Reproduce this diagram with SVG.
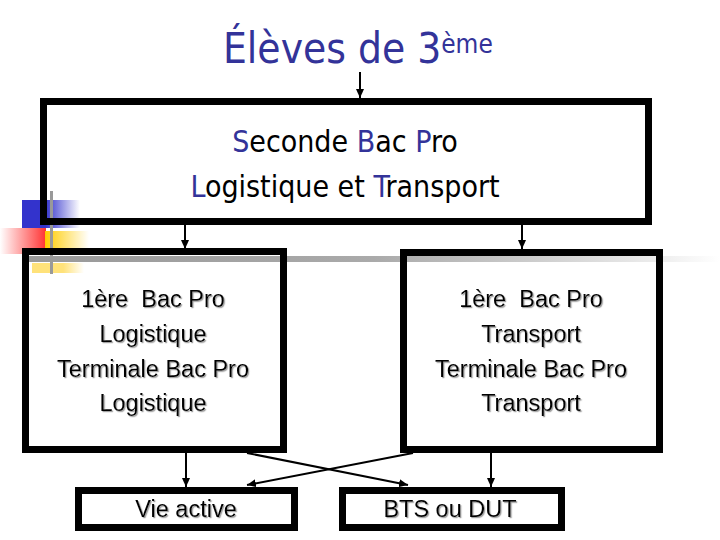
<svg xmlns="http://www.w3.org/2000/svg" width="720" height="540" viewBox="0 0 720 540">
<style>
.box{fill:none;stroke:#000;stroke-width:7}
.conn line{stroke:#000;stroke-width:2}
.title{font-family:"DejaVu Sans Condensed","DejaVu Sans",sans-serif;font-stretch:condensed;fill:#333399}
.main{font-family:"DejaVu Sans Condensed","DejaVu Sans",sans-serif;font-stretch:condensed;font-size:30px;fill:#000;text-anchor:middle}
.hl{fill:#333399}
.lbl{font-family:'Liberation Sans',Arial,sans-serif;font-size:23.5px;fill:#000;text-anchor:middle;white-space:pre;filter:url(#sh)}
</style>
<defs>
<marker id="ah" markerUnits="userSpaceOnUse" markerWidth="9" markerHeight="8" refX="9" refY="4" orient="auto">
<path d="M0,0 L9,4 L0,8 z" fill="#000"/>
</marker>
<filter id="sh" x="-5%" y="-20%" width="110%" height="140%">
<feDropShadow dx="1.2" dy="1.2" stdDeviation="0.4" flood-color="#888" flood-opacity="0.8"/>
</filter>
<linearGradient id="gBlue" x1="0" x2="1" y1="0" y2="0">
<stop offset="0" stop-color="#3333cc"/><stop offset="0.4" stop-color="#3333cc"/><stop offset="1" stop-color="#3333cc" stop-opacity="0"/>
</linearGradient>
<linearGradient id="gRed" x1="0" x2="1" y1="0" y2="0">
<stop offset="0" stop-color="#ff3333" stop-opacity="0"/><stop offset="1" stop-color="#ff3333"/>
</linearGradient>
<linearGradient id="gYel" x1="0" x2="1" y1="0" y2="0">
<stop offset="0" stop-color="#ffcc00"/><stop offset="1" stop-color="#ffcc00" stop-opacity="0"/>
</linearGradient>
<linearGradient id="gPale" x1="0" x2="1" y1="0" y2="0">
<stop offset="0" stop-color="#ffe27a"/><stop offset="0.6" stop-color="#ffe27a"/><stop offset="1" stop-color="#ffe27a" stop-opacity="0"/>
</linearGradient>
<linearGradient id="gGrey" x1="0" x2="1" y1="0" y2="0">
<stop offset="0" stop-color="#999"/><stop offset="0.5" stop-color="#aaa"/><stop offset="1" stop-color="#999" stop-opacity="0"/>
</linearGradient>
</defs>

<g id="decor">
<rect x="22" y="200" width="58" height="28" fill="url(#gBlue)"/>
<rect x="0" y="228" width="46" height="26" fill="url(#gRed)"/>
<rect x="45" y="231" width="44" height="18" fill="url(#gYel)"/>
<rect x="32" y="263" width="52" height="10" fill="url(#gPale)"/>
<rect x="28" y="256" width="692" height="6" fill="url(#gGrey)"/>
<rect x="50" y="191" width="3" height="83" fill="#999"/>
</g>

<g id="title">
<text class="title" x="223" y="63" font-size="42">Élèves de 3<tspan font-size="26" dy="-10">ème</tspan></text>
</g>

<g id="seconde">
<rect class="box" x="43.5" y="101.5" width="605" height="120"/>
<text class="main" x="345" y="152"><tspan class="hl">S</tspan>econde <tspan class="hl">B</tspan>ac <tspan class="hl">P</tspan>ro</text>
<text class="main" x="345" y="197"><tspan class="hl">L</tspan>ogistique et <tspan class="hl">T</tspan>ransport</text>
</g>

<g id="logistique">
<rect class="box" x="25.5" y="251.5" width="258" height="198"/>
<text class="lbl" x="153" y="307" xml:space="preserve">1ère  Bac Pro</text>
<text class="lbl" x="153" y="342">Logistique</text>
<text class="lbl" x="153" y="377">Terminale Bac Pro</text>
<text class="lbl" x="153" y="411">Logistique</text>
</g>

<g id="transport">
<rect class="box" x="403.5" y="252.5" width="256" height="197"/>
<text class="lbl" x="531" y="307" xml:space="preserve">1ère  Bac Pro</text>
<text class="lbl" x="531" y="342">Transport</text>
<text class="lbl" x="531" y="377">Terminale Bac Pro</text>
<text class="lbl" x="531" y="411">Transport</text>
</g>

<g id="vie-active">
<rect class="box" x="78.5" y="490.5" width="216" height="37"/>
<text class="lbl" x="186" y="517">Vie active</text>
</g>

<g id="bts-dut">
<rect class="box" x="342.5" y="490.5" width="219" height="37"/>
<text class="lbl" x="450" y="517">BTS ou DUT</text>
</g>

<g id="connectors" class="conn">
<line x1="360" y1="72" x2="360" y2="98" marker-end="url(#ah)"/>
<line x1="185" y1="225" x2="185" y2="249" marker-end="url(#ah)"/>
<line x1="522" y1="225" x2="522" y2="249" marker-end="url(#ah)"/>
<line x1="186" y1="453" x2="186" y2="487" marker-end="url(#ah)"/>
<line x1="491" y1="453" x2="491" y2="487" marker-end="url(#ah)"/>
<line x1="247" y1="453" x2="408" y2="485" marker-end="url(#ah)"/>
<line x1="413" y1="453" x2="247" y2="485" marker-end="url(#ah)"/>
</g>
</svg>
